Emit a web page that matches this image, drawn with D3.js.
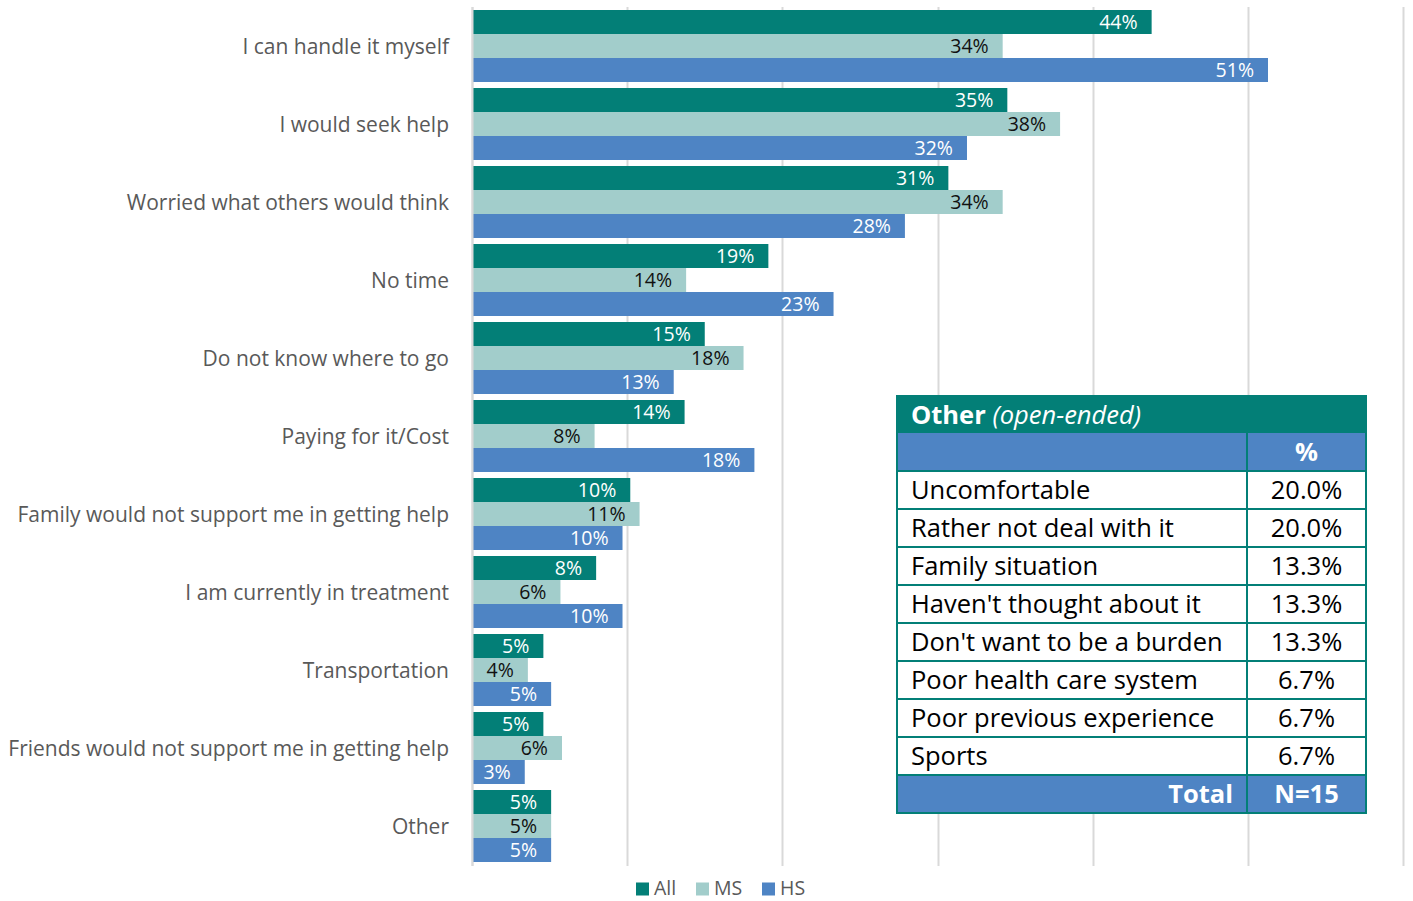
<!DOCTYPE html>
<html>
<head>
<meta charset="utf-8">
<script src="https://cdn.jsdelivr.net/npm/d3@7"></script>
<style>
  html, body { margin: 0; padding: 0; background: #fff; }
  svg { display: block; font-family: "Open Sans", "Noto Sans", sans-serif; }
</style>
</head>
<body>
<svg id="chart" width="1413" height="901"></svg>
<script>
// --- data
const categories = [
  "I can handle it myself",
  "I would seek help",
  "Worried what others would think",
  "No time",
  "Do not know where to go",
  "Paying for it/Cost",
  "Family would not support me in getting help",
  "I am currently in treatment",
  "Transportation",
  "Friends would not support me in getting help",
  "Other"
];
const seriesNames = ["All", "MS", "HS"];
const allValues = [43.8, 34.5, 30.7, 19.1, 15.0, 13.7, 10.2, 8.0, 4.6, 4.6, 5.1];
const msValues  = [34.2, 37.9, 34.2, 13.8, 17.5, 7.9, 10.8, 5.7, 3.6, 5.8, 5.1];
const hsValues  = [51.3, 31.9, 27.9, 23.3, 13.0, 18.2, 9.7, 9.7, 5.1, 3.4, 5.1];
const xTicks = [0, 10, 20, 30, 40, 50, 60];

const otherTitle = "Other";
const otherSubtitle = "(open-ended)";
const otherItems = [
  "Uncomfortable",
  "Rather not deal with it",
  "Family situation",
  "Haven't thought about it",
  "Don't want to be a burden",
  "Poor health care system",
  "Poor previous experience",
  "Sports"
];
const otherPct = ["20.0%", "20.0%", "13.3%", "13.3%", "13.3%", "6.7%", "6.7%", "6.7%"];
const otherTotal = "N=15";

const COLORS = { All: "#037F77", MS: "#A2CDCB", HS: "#4E84C4" };
const LABEL_COLORS = { All: "#fff", MS: "#111", HS: "#fff" };
const values = { All: allValues, MS: msValues, HS: hsValues };

const svg = d3.select("#chart");

const x = d3.scaleLinear().domain([0, 60]).range([472, 1403]);
const y = d3.scaleBand()
  .domain(categories)
  .range([7, 865])
  .paddingInner(6 / 78)
  .paddingOuter(3 / 78);
const ySub = d3.scaleBand().domain(seriesNames).range([0, y.bandwidth()]);

// gridlines
svg.append("g")
  .selectAll("line")
  .data(xTicks)
  .join("line")
  .attr("x1", (d) => Math.round(x(d)) + 0.5)
  .attr("x2", (d) => Math.round(x(d)) + 0.5)
  .attr("y1", 7)
  .attr("y2", 866)
  .attr("stroke", "#d9d9d9")
  .attr("stroke-width", 2);

// bars
const groups = svg.append("g")
  .selectAll("g")
  .data(categories)
  .join("g")
  .attr("transform", (d) => `translate(0,${y(d)})`);

const barData = (c, i) => seriesNames.map((s) => ({ s, v: values[s][i] }));

groups.each(function (c, i) {
  const g = d3.select(this);
  const rows = barData(c, i);
  g.selectAll("rect")
    .data(rows)
    .join("rect")
    .attr("x", x(0))
    .attr("y", (d) => ySub(d.s))
    .attr("width", (d) => x(d.v) - x(0))
    .attr("height", ySub.bandwidth())
    .attr("fill", (d) => COLORS[d.s]);
  g.selectAll("text")
    .data(rows)
    .join("text")
    .attr("x", (d) => x(d.v) - 14)
    .attr("y", (d) => ySub(d.s) + ySub.bandwidth() / 2)
    .attr("dy", "0.36em")
    .attr("text-anchor", "end")
    .attr("fill", (d) => LABEL_COLORS[d.s])
    .style("font-size", "19.5px")
    .text((d) => Math.round(d.v) + "%");
});

// left axis line
svg.append("line")
  .attr("x1", 472.5).attr("x2", 472.5)
  .attr("y1", 7).attr("y2", 866)
  .attr("stroke", "#d9d9d9")
  .attr("stroke-width", 2);

// category labels
svg.append("g")
  .selectAll("text")
  .data(categories)
  .join("text")
  .attr("x", 449)
  .attr("y", (d) => y(d) + y.bandwidth() / 2)
  .attr("dy", "0.36em")
  .attr("text-anchor", "end")
  .attr("fill", "#595959")
  .style("font-size", "21px")
  .text((d) => d);

// legend
const legend = svg.append("g").attr("transform", "translate(636,881)");
const legX = [0, 60, 126];
seriesNames.forEach((s, i) => {
  legend.append("rect")
    .attr("x", legX[i]).attr("y", 1.5)
    .attr("width", 13).attr("height", 13)
    .attr("fill", COLORS[s]);
  legend.append("text")
    .attr("x", legX[i] + 18).attr("y", 7)
    .attr("dy", "0.36em")
    .attr("fill", "#595959")
    .style("font-size", "19.5px")
    .text(s);
});

// --- table "Other (open-ended)"
const T = { x0: 897, x1: 1366, xc: 1247, y0: 396, titleH: 37, headH: 38, rowH: 38 };
const teal = "#037F77";
const blue = "#4E84C4";
const tblFont = "25.5px";
const tbl = svg.append("g");

tbl.append("rect")
  .attr("x", T.x0).attr("y", T.y0)
  .attr("width", T.x1 - T.x0).attr("height", T.titleH)
  .attr("fill", teal);
const title = tbl.append("text")
  .attr("x", T.x0 + 14).attr("y", T.y0 + T.titleH / 2)
  .attr("dy", "0.36em")
  .attr("fill", "#fff")
  .style("font-size", tblFont);
title.append("tspan").attr("font-weight", 700).text(otherTitle + " ");
title.append("tspan").attr("font-style", "italic").text(otherSubtitle);

const headY = T.y0 + T.titleH;
tbl.append("rect")
  .attr("x", T.x0).attr("y", headY)
  .attr("width", T.x1 - T.x0).attr("height", T.headH)
  .attr("fill", blue);
tbl.append("text")
  .attr("x", (T.xc + T.x1) / 2).attr("y", headY + T.headH / 2)
  .attr("dy", "0.36em")
  .attr("text-anchor", "middle")
  .attr("fill", "#fff")
  .attr("font-weight", 700)
  .style("font-size", tblFont)
  .text("%");

const rowY0 = headY + T.headH;
const rowY = d3.scaleBand().domain(d3.range(otherItems.length + 1))
  .range([rowY0, rowY0 + T.rowH * (otherItems.length + 1)]);

const rows = tbl.append("g")
  .selectAll("g")
  .data(otherItems)
  .join("g")
  .attr("transform", (d, i) => `translate(0,${rowY(i)})`);
rows.append("rect")
  .attr("x", T.x0).attr("y", 0)
  .attr("width", T.x1 - T.x0).attr("height", rowY.bandwidth())
  .attr("fill", "#fff");
rows.append("text")
  .attr("x", T.x0 + 14).attr("y", rowY.bandwidth() / 2)
  .attr("dy", "0.36em")
  .attr("fill", "#000")
  .style("font-size", tblFont)
  .text((d) => d);
rows.append("text")
  .attr("x", (T.xc + T.x1) / 2).attr("y", rowY.bandwidth() / 2)
  .attr("dy", "0.36em")
  .attr("text-anchor", "middle")
  .attr("fill", "#000")
  .style("font-size", tblFont)
  .text((d, i) => otherPct[i]);

const totY = rowY(otherItems.length);
tbl.append("rect")
  .attr("x", T.x0).attr("y", totY)
  .attr("width", T.x1 - T.x0).attr("height", rowY.bandwidth())
  .attr("fill", blue);
tbl.append("text")
  .attr("x", T.xc - 14).attr("y", totY + rowY.bandwidth() / 2)
  .attr("dy", "0.36em")
  .attr("text-anchor", "end")
  .attr("fill", "#fff")
  .attr("font-weight", 700)
  .style("font-size", tblFont)
  .text("Total");
tbl.append("text")
  .attr("x", (T.xc + T.x1) / 2).attr("y", totY + rowY.bandwidth() / 2)
  .attr("dy", "0.36em")
  .attr("text-anchor", "middle")
  .attr("fill", "#fff")
  .attr("font-weight", 700)
  .style("font-size", tblFont)
  .text(otherTotal);

// table grid lines (teal)
const tBottom = totY + rowY.bandwidth();
const hLines = d3.range(otherItems.length + 2).map((i) => rowY0 + i * T.rowH);
tbl.append("g")
  .selectAll("line")
  .data(hLines)
  .join("line")
  .attr("x1", T.x0).attr("x2", T.x1)
  .attr("y1", (d) => d).attr("y2", (d) => d)
  .attr("stroke", teal).attr("stroke-width", 2);
tbl.append("line")
  .attr("x1", T.xc).attr("x2", T.xc)
  .attr("y1", headY).attr("y2", tBottom)
  .attr("stroke", teal).attr("stroke-width", 2);
tbl.append("rect")
  .attr("x", T.x0).attr("y", T.y0)
  .attr("width", T.x1 - T.x0).attr("height", tBottom - T.y0)
  .attr("fill", "none")
  .attr("stroke", teal).attr("stroke-width", 2);
</script>
</body>
</html>
